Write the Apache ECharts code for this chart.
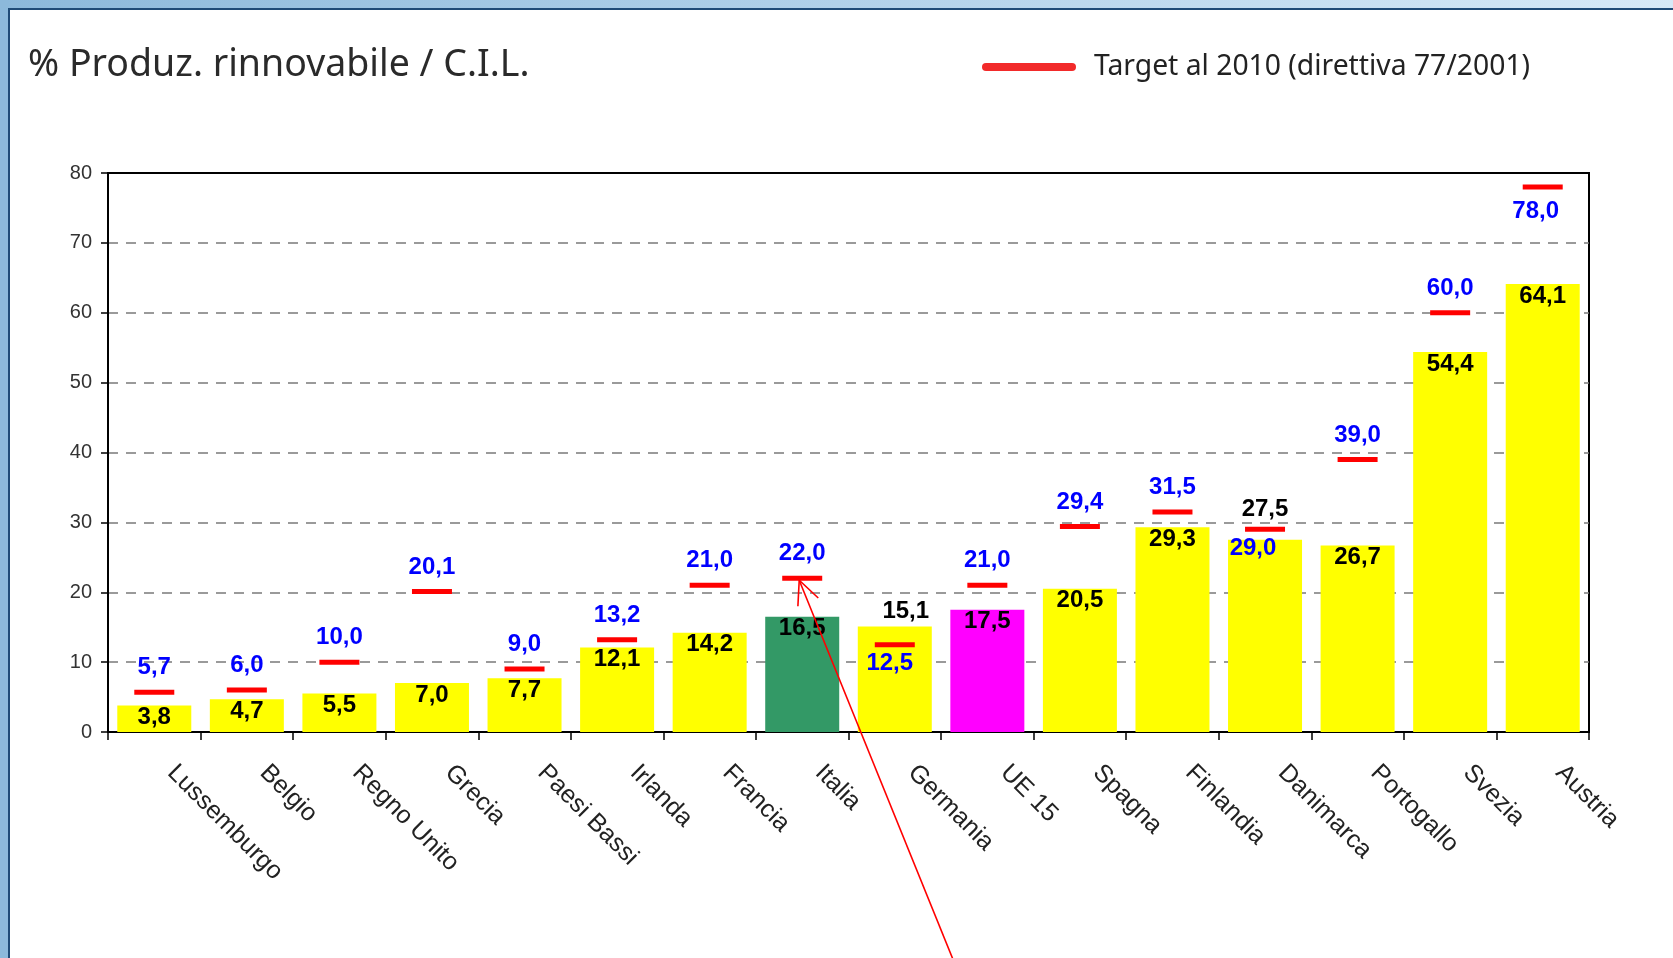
<!DOCTYPE html>
<html><head><meta charset="utf-8">
<script src="https://cdn.jsdelivr.net/npm/echarts@6/dist/echarts.min.js"></script>
<style>html,body{margin:0;padding:0;background:#fff}#c{width:1673px;height:958px}</style>
</head><body><div id="c"></div><script>
// ---- data ----
const categories = ['Lussemburgo','Belgio','Regno Unito','Grecia','Paesi Bassi','Irlanda','Francia','Italia','Germania','UE 15','Spagna','Finlandia','Danimarca','Portogallo','Svezia','Austria'];
const production = [3.8,4.7,5.5,7.0,7.7,12.1,14.2,16.5,15.1,17.5,20.5,29.3,27.5,26.7,54.4,64.1];
const target2010 = [5.7,6.0,10.0,20.1,9.0,13.2,21.0,22.0,12.5,21.0,29.4,31.5,29.0,39.0,60.0,78.0];
const yMin = 0, yMax = 80, yStep = 10;
const titleText = '% Produz. rinnovabile / C.I.L.';
const legendText = 'Target al 2010 (direttiva 77/2001)';

// ---- styles ----
const FONT = '"Liberation Sans", Arial, sans-serif';
const SANS = '"Noto Sans", "Open Sans", sans-serif';
const barColors = { 'Italia': '#339966', 'UE 15': '#ff00ff' };
const defaultBar = '#ffff00';
const barLabelOverride = {
  'Germania': { position: 'top', distance: 3, offset: [11, 0] },
  'Danimarca': { position: 'top', distance: 18 }
};
const targetLabelOverride = {
  'Germania': { position: 'bottom', distance: 4, offset: [-5, 0] },
  'Danimarca': { position: 'bottom', distance: 5, offset: [-12, 0] },
  'Austria': { position: 'bottom', distance: 10, offset: [-7, 0] }
};
const fmt = v => Number(v).toFixed(1).replace('.', ',');

const chart = echarts.init(document.getElementById('c'), null, { renderer: 'canvas' });

const barData = production.map((v, i) => {
  const c = categories[i];
  const item = { value: v, itemStyle: { color: barColors[c] || defaultBar } };
  if (barLabelOverride[c]) item.label = barLabelOverride[c];
  return item;
});
const targetData = target2010.map((v, i) => {
  const c = categories[i];
  const item = { value: v };
  if (targetLabelOverride[c]) item.label = targetLabelOverride[c];
  return item;
});

chart.setOption({
  backgroundColor: '#ffffff',
  animation: false,
  title: {
    text: titleText, left: 28, top: 44, padding: 0,
    textStyle: { fontFamily: SANS, fontSize: 37.5, fontWeight: 'normal', color: '#2a2a2a', lineHeight: 42 }
  },
  legend: {
    left: 982, top: 50, padding: 0,
    itemWidth: 94, itemHeight: 9,
    data: [{ name: legendText, icon: 'path://M4,0 L90,0 A4,4 0 0 1 90,8 L4,8 A4,4 0 0 1 4,0 Z', itemStyle: { color: '#f22a2a', opacity: 1 } }],
    textStyle: { fontFamily: SANS, fontSize: 28.3, color: '#222', lineHeight: 34, padding: [0, 0, 0, 13] }
  },
  grid: { left: 108, right: 84, top: 173, bottom: 226, show: true, borderColor: '#000', borderWidth: 2, backgroundColor: 'transparent' },
  xAxis: {
    type: 'category', data: categories,
    axisLine: { lineStyle: { color: '#000', width: 2 } },
    axisTick: { show: true, length: 8, lineStyle: { color: '#000', width: 1.5 } },
    axisLabel: { interval: 0, rotate: -45, margin: 20, padding: [0, 0, 0, 24], fontSize: 25, fontFamily: FONT, color: '#222' }
  },
  yAxis: {
    type: 'value', min: yMin, max: yMax, interval: yStep,
    axisLine: { show: true, lineStyle: { color: '#000', width: 2 } },
    axisTick: { show: true, length: 7, lineStyle: { color: '#000', width: 1.5 } },
    axisLabel: { fontSize: 20, fontFamily: FONT, color: '#333', margin: 16 },
    splitLine: { show: true, showMinLine: false, showMaxLine: false, lineStyle: { type: [10, 8], color: '#7a7a7a', width: 1.5 } }
  },
  series: [
    {
      name: 'Produzione', type: 'bar', data: barData, barWidth: 74, z: 2,
      emphasis: { disabled: true },
      label: { show: true, position: 'insideTop', distance: 0, color: '#000', fontWeight: 'bold', fontSize: 24, fontFamily: FONT, formatter: p => fmt(p.value) }
    },
    {
      name: legendText, type: 'scatter', data: targetData, z: 4,
      symbol: 'rect', symbolSize: [40, 5],
      emphasis: { disabled: true },
      itemStyle: { color: '#ff0000', opacity: 1 },
      label: { show: true, position: 'top', distance: 10, color: '#0000ff', opacity: 1, fontWeight: 'bold', fontSize: 24, fontFamily: FONT, formatter: p => fmt(p.value) }
    }
  ]
});

// annotation arrow pointing to Italia's target + window frame
const iIt = categories.indexOf('Italia');
const tip = chart.convertToPixel({ gridIndex: 0 }, [iIt, target2010[iIt]]);
tip[0] -= 3; tip[1] += 2;
const tail = [tip[0] + 154, 960];
const dx = tail[0] - tip[0], dy = tail[1] - tip[1];
const ang = Math.atan2(dy, dx), L = 26, spread = 25 * Math.PI / 180;
const w1 = [tip[0] + L * Math.cos(ang + spread), tip[1] + L * Math.sin(ang + spread)];
const w2 = [tip[0] + L * Math.cos(ang - spread), tip[1] + L * Math.sin(ang - spread)];

chart.setOption({
  graphic: [
    { type: 'rect', id: 'topbar', shape: { x: 0, y: 0, width: 1673, height: 8 }, style: { fill: new echarts.graphic.LinearGradient(0, 0, 1, 0, [{ offset: 0, color: '#8cb9db' }, { offset: 1, color: '#d6e9f7' }]) }, silent: true, z: 100 },
    { type: 'rect', id: 'leftbar', shape: { x: 0, y: 0, width: 8, height: 958 }, style: { fill: '#8cb9db' }, silent: true, z: 100 },
    { type: 'rect', id: 'topline', shape: { x: 8, y: 8, width: 1665, height: 2 }, style: { fill: '#1f4b77' }, silent: true, z: 101 },
    { type: 'rect', id: 'leftline', shape: { x: 8, y: 8, width: 2, height: 950 }, style: { fill: '#1f4b77' }, silent: true, z: 101 },
    { type: 'line', id: 'arrowLine', shape: { x1: tip[0], y1: tip[1], x2: tail[0], y2: tail[1] }, style: { stroke: '#ff0000', lineWidth: 1.6 }, silent: true, z: 50 },
    { type: 'polyline', id: 'arrowHead', shape: { points: [w1, tip, w2] }, style: { stroke: '#ff0000', lineWidth: 1.6, fill: null }, silent: true, z: 50 }
  ]
});
</script></body></html>
